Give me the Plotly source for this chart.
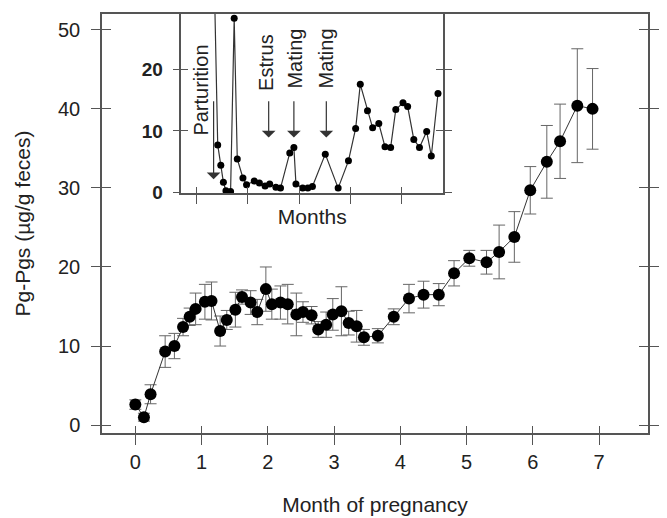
import plotly.graph_objects as go

# ---- main series: month of pregnancy vs Pg-Pgs (mean, SE) ----
months = [0.0, 0.13, 0.23, 0.45, 0.59, 0.72, 0.82, 0.91, 1.05, 1.15, 1.28, 1.38, 1.51, 1.61, 1.74,
          1.84, 1.97, 2.06, 2.19, 2.30, 2.43, 2.53, 2.66, 2.76, 2.88, 2.98, 3.11, 3.22, 3.34, 3.45,
          3.66, 3.90, 4.13, 4.35, 4.58, 4.81, 5.04, 5.30, 5.49, 5.72, 5.96, 6.21, 6.41, 6.67, 6.90]
pg_values = [2.6, 1.0, 3.9, 9.3, 10.0, 12.4, 13.7, 14.7, 15.6, 15.7, 11.9, 13.3, 14.6, 16.2, 15.5,
             14.3, 17.2, 15.3, 15.5, 15.3, 14.0, 14.3, 13.9, 12.1, 12.7, 14.0, 14.4, 12.9, 12.5, 11.1,
             11.3, 13.7, 16.0, 16.5, 16.5, 19.2, 21.1, 20.6, 21.9, 23.8, 29.7, 33.3, 35.9, 40.4, 40.0]
pg_errors = [0.6, 0.5, 1.2, 2.0, 1.6, 1.1, 1.1, 2.0, 2.2, 2.4, 1.9, 1.2, 2.2, 0.9, 1.5,
             1.6, 2.8, 1.9, 2.1, 2.5, 2.7, 1.3, 1.1, 1.0, 1.6, 2.0, 3.1, 1.5, 2.0, 1.0,
             0.9, 1.0, 1.8, 1.7, 1.4, 1.6, 1.0, 1.5, 3.4, 3.2, 3.0, 4.6, 4.7, 7.2, 5.1]
x_ticks = [0, 1, 2, 3, 4, 5, 6, 7]
y_ticks = [0, 10, 20, 30, 40, 50]

# ---- inset series: postpartum months ----
inset_months = [0.34, 0.42, 0.48, 0.53, 0.58, 0.67, 0.74, 0.80, 0.91, 0.98, 1.13, 1.23, 1.34, 1.43, 1.55,
                1.64, 1.82, 1.90, 1.94, 2.07, 2.17, 2.26, 2.51, 2.76, 2.96, 3.10, 3.19, 3.33, 3.43, 3.55,
                3.67, 3.78, 3.88, 4.02, 4.11, 4.23, 4.34, 4.48, 4.57, 4.70]
inset_values = [40, 7.7, 4.4, 1.6, 0.2, 0.1, 28.4, 5.4, 2.3, 1.2, 1.8, 1.5, 1.0, 1.3, 0.8,
                0.65, 6.4, 7.3, 1.3, 0.65, 0.65, 0.9, 6.2, 0.65, 5.1, 10.4, 17.6, 13.3, 10.5, 11.2,
                7.4, 7.3, 13.5, 14.6, 14.0, 8.6, 7.3, 9.9, 5.9, 16.1]
inset_x_ticks = [0, 1, 2, 3, 4]
inset_y_ticks = [0, 10, 20]

# events marked in the inset
event_labels = ["Parturition", "Estrus", "Mating", "Mating"]
event_months = [0.34, 1.41, 1.90, 2.53]
event_tips = [2.1, 8.9, 8.9, 8.9]
event_text_x = [0.09, 1.37, 1.92, 2.52]
event_text_y = [16.7, 21.2, 21.8, 21.8]
arrow_tail = 15.1

FONT = "Arial, Liberation Sans, Helvetica, sans-serif"
INK = "#222222"
AX = "#555555"

fig = go.Figure()

fig.add_trace(go.Scatter(
    x=months, y=pg_values, mode="lines+markers",
    line=dict(color="#333333", width=1),
    marker=dict(color="black", size=12),
    error_y=dict(type="data", array=pg_errors, color="#666666", thickness=1, width=6),
    xaxis="x", yaxis="y", showlegend=False, hoverinfo="x+y"))

fig.add_trace(go.Scatter(
    x=inset_months, y=inset_values, mode="lines+markers",
    line=dict(color="#333333", width=1.2),
    marker=dict(color="black", size=7),
    xaxis="x2", yaxis="y2", showlegend=False, hoverinfo="x+y"))

# invisible traces to activate the overlay axes that draw the inward half of the crossing ticks
fig.add_trace(go.Scatter(x=months[:1], y=pg_values[:1], mode="markers", marker=dict(opacity=0),
                         xaxis="x3", yaxis="y3", showlegend=False, hoverinfo="skip"))
fig.add_trace(go.Scatter(x=inset_months[1:2], y=inset_values[1:2], mode="markers", marker=dict(opacity=0),
                         xaxis="x4", yaxis="y4", showlegend=False, hoverinfo="skip"))

main_xr = [-0.503, 7.737]
main_yr = [-1.0, 52.0]
ins_xr = [-0.286, 4.8]
ins_yr = [-0.15, 29.1]
ins_dom_x = [0.1454, 0.6248]
ins_dom_y = [0.5728, 1.0]

tickfont = dict(family=FONT, size=20, color=INK)

fig.update_layout(
    width=651, height=518,
    margin=dict(l=94, r=0, t=6, b=93),
    paper_bgcolor="white", plot_bgcolor="white",
    font=dict(family=FONT, color=INK),
    xaxis=dict(range=main_xr, tickvals=x_ticks, ticks="outside", ticklen=10, tickwidth=1.2,
               tickcolor=AX, showline=True, linecolor=AX, linewidth=1.5, mirror=True,
               showgrid=False, zeroline=False, tickfont=tickfont,
               title=dict(text="Month of pregnancy", font=dict(family=FONT, size=21, color=INK), standoff=26)),
    yaxis=dict(range=main_yr, tickvals=y_ticks, ticks="outside", ticklen=9, tickwidth=1.2,
               tickcolor=AX, showline=True, linecolor=AX, linewidth=1.5, mirror="ticks",
               showgrid=False, zeroline=False, tickfont=tickfont, ticklabelstandoff=7,
               title=dict(text="Pg-Pgs (µg/g feces)", font=dict(family=FONT, size=21, color=INK), standoff=22)),
    xaxis3=dict(range=main_xr, tickvals=x_ticks, overlaying="x", anchor="y3", ticks="inside", ticklen=7,
                tickwidth=1.2, tickcolor=AX, showticklabels=False, showline=False, showgrid=False, zeroline=False),
    yaxis3=dict(range=main_yr, tickvals=y_ticks, overlaying="y", anchor="x3", ticks="inside", ticklen=9,
                tickwidth=1.2, tickcolor=AX, mirror="ticks", showticklabels=False, showline=False,
                showgrid=False, zeroline=False),
    xaxis2=dict(domain=ins_dom_x, anchor="y2", range=ins_xr, tickvals=inset_x_ticks, ticks="outside",
                ticklen=9, tickwidth=1.2, tickcolor=AX, showticklabels=False, showline=True,
                linecolor=AX, linewidth=1.5, mirror=True, showgrid=False, zeroline=False,
                title=dict(text="Months", font=dict(family=FONT, size=21, color=INK), standoff=7)),
    yaxis2=dict(domain=ins_dom_y, anchor="x2", range=ins_yr, tickvals=inset_y_ticks, ticks="outside",
                ticklen=7, tickwidth=1.2, tickcolor=AX, showline=True, linecolor=AX, linewidth=1.5,
                mirror="ticks", showgrid=False, zeroline=False, ticklabelstandoff=6,
                tickfont=dict(family=FONT, size=19, color=INK, weight="bold")),
    xaxis4=dict(range=ins_xr, tickvals=inset_x_ticks, overlaying="x2", anchor="y4", ticks="inside",
                ticklen=6, tickwidth=1.2, tickcolor=AX, showticklabels=False, showline=False,
                showgrid=False, zeroline=False),
    yaxis4=dict(range=ins_yr, tickvals=inset_y_ticks, overlaying="y2", anchor="x4", ticks="inside",
                ticklen=7, tickwidth=1.2, tickcolor=AX, mirror="ticks", showticklabels=False,
                showline=False, showgrid=False, zeroline=False),
)

annotations = []
for lab, m, tip, tx, ty in zip(event_labels, event_months, event_tips, event_text_x, event_text_y):
    annotations.append(dict(xref="x2", yref="y2", axref="x2", ayref="y2", x=m, y=tip, ax=m, ay=arrow_tail,
                            text="", showarrow=True, arrowhead=1, arrowsize=1.9, arrowwidth=1.2,
                            arrowcolor="#333333", standoff=0, startstandoff=0))
    annotations.append(dict(xref="x2", yref="y2", x=tx, y=ty, text=lab, showarrow=False, textangle=-90,
                            xanchor="center", yanchor="middle",
                            font=dict(family=FONT, size=20, color=INK)))
fig.update_layout(annotations=annotations)

fig.write_html("out.html")
